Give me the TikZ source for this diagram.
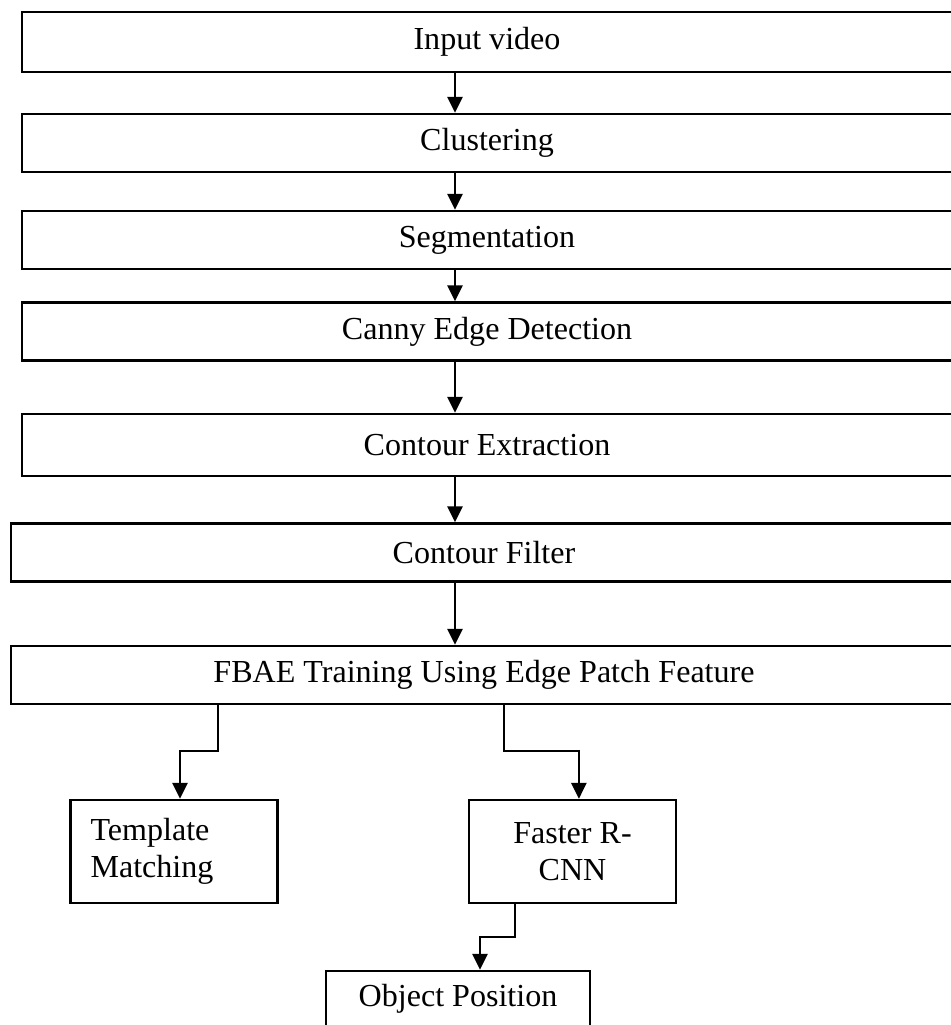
\documentclass[tikz,border=0pt]{standalone}
\usepackage{fontspec}
\setmainfont{Liberation Serif}
\usetikzlibrary{arrows.meta}

\begin{document}
\begin{tikzpicture}[
    x=0.025cm, y=-0.025cm,
    stage/.style={rectangle, draw, line width=1.7pt, minimum width=23.25cm, minimum height=1.45cm, align=center, font=\fontsize{22.8pt}{26.5pt}\selectfont},
    wide/.style={stage, minimum width=23.65cm},
    block/.style={stage, minimum width=5.17cm, minimum height=2.575cm},
    arrow/.style={-{Triangle[length=0.4cm, width=0.38cm]}, line width=1.6pt}
]
\useasboundingbox (0,0) rectangle (951,1025);
\coordinate (spine) at (455,0);
\node[stage, minimum height=1.5cm] (video) at (487,42) {Input video};
\node[stage] (clust) at (487,143) {Clustering};
\node[stage] (segm) at (487,240) {Segmentation};
\node[stage] (canny) at (487,331.5) {Canny Edge Detection};
\node[stage, minimum height=1.55cm] (cextr) at (487,445) {Contour Extraction};
\node[wide] (cfilt) at (484,552.5) {Contour Filter};
\node[wide] (fbae) at (484,675) {FBAE Training Using Edge Patch Feature};
\node[block, text width=4.17cm, inner xsep=0.5cm, align=left] (tmpl) at (174,851.5) {Template\\Matching};
\node[block] (faster) at (572.5,851.5) {Faster R-\\CNN};
\node[stage, minimum width=6.6cm, minimum height=1.4cm] (objpos) at (458,999) {Object Position};
\draw[arrow] (video.south -| spine) -- (clust.north -| spine);
\draw[arrow] (clust.south -| spine) -- (segm.north -| spine);
\draw[arrow] (segm.south -| spine) -- (canny.north -| spine);
\draw[arrow] (canny.south -| spine) -- (cextr.north -| spine);
\draw[arrow] (cextr.south -| spine) -- (cfilt.north -| spine);
\draw[arrow] (cfilt.south -| spine) -- (fbae.north -| spine);
\draw[arrow] ([xshift=-6.65cm]fbae.south) |- ([xshift=0.15cm, yshift=1.2cm]tmpl.north) -- ([xshift=0.15cm]tmpl.north);
\draw[arrow] ([xshift=0.5cm]fbae.south) |- ([xshift=0.16cm, yshift=1.2cm]faster.north) -- ([xshift=0.16cm]faster.north);
\draw[arrow] ([xshift=-1.44cm]faster.south) |- ([xshift=0.55cm, yshift=0.825cm]objpos.north) -- ([xshift=0.55cm]objpos.north);
\end{tikzpicture}
\end{document}
